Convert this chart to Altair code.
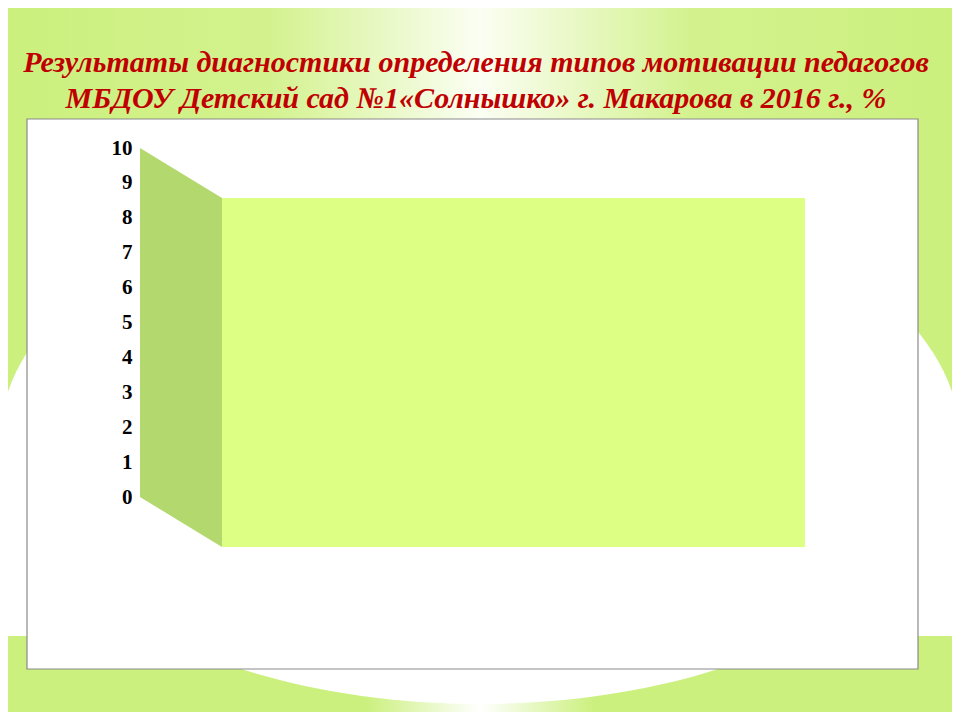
import altair as alt
import pandas as pd

# ---- data (the chart in the reference holds no series; only the axis scale) ----
TITLE_LINES = [
    "Результаты диагностики определения типов мотивации педагогов",
    "МБДОУ Детский сад №1«Солнышко» г. Макарова в 2016 г., %",
]
Y_TICKS = [0, 1, 2, 3, 4, 5, 6, 7, 8, 9, 10]
Y_MIN, Y_MAX = 0, 10

# ---- layout / style (view px = page px - 8) ----
W, H = 944, 704
GREEN = "#CBF07D"
Y_RANGE = [489, 140]             # pixel range of 0..10 on the front edge
PX_PER_UNIT = (Y_RANGE[0] - Y_RANGE[1]) / (Y_MAX - Y_MIN)
DROP_PX = 50                     # 3D depth drop
DROP_U = DROP_PX / PX_PER_UNIT

one = pd.DataFrame({"k": [0]})

def hgrad(stops):
    return {
        "gradient": "linear", "x1": 0, "x2": 1, "y1": 0, "y2": 0,
        "stops": [{"offset": o, "color": c} for o, c in stops],
    }

bg_top = alt.Chart(one).mark_rect(
    color=hgrad([(0, GREEN), (0.28, "#D3F28E"), (0.5, "#FBFEF3"), (0.72, "#D3F28E"), (1, GREEN)])
).encode(x=alt.value(-8), x2=alt.value(W + 8), y=alt.value(-8), y2=alt.value(388))

bg_bot = alt.Chart(one).mark_rect(
    color=hgrad([(0, GREEN), (0.38, GREEN), (0.5, "#FFFFFF"), (0.62, GREEN), (1, GREEN)])
).encode(x=alt.value(-8), x2=alt.value(W + 8), y=alt.value(627), y2=alt.value(H + 8))

bg_mid = alt.Chart(one).mark_rect(color="white").encode(
    x=alt.value(-8), x2=alt.value(W + 8), y=alt.value(387), y2=alt.value(628)
)

ellipse = alt.Chart(one).mark_point(
    shape="M -1 0 A 1 0.55 0 1 0 1 0 A 1 0.55 0 1 0 -1 0 Z",
    filled=True, fill="white", opacity=1, strokeWidth=0, size=960 * 960,
).encode(x=alt.value(472), y=alt.value(432))

box = alt.Chart(one).mark_rect(fill="white", stroke="#8A8A8A", strokeWidth=1.2).encode(
    x=alt.value(19), x2=alt.value(910), y=alt.value(111), y2=alt.value(661)
)

yaxis = alt.Axis(
    values=Y_TICKS, labelFont="Liberation Serif", labelFontWeight="bold",
    labelFontSize=21, labelColor="black", domain=False, ticks=False, grid=False,
    labelPadding=8, offset=-132, title=None, zindex=2,
)
yscale = alt.Scale(domain=[Y_MIN, Y_MAX], range=Y_RANGE, nice=False, zero=False)

back_df = pd.DataFrame({"lo": [Y_MIN], "hi": [Y_MAX]})
back_wall = alt.Chart(back_df).mark_rect(
    color="#DDFF84", yOffset=DROP_PX, y2Offset=DROP_PX
).encode(
    x=alt.value(214), x2=alt.value(797),
    y=alt.Y("lo:Q", scale=yscale, axis=yaxis), y2="hi:Q",
)

side_df = pd.DataFrame({
    "d": [0, 1],
    "top": [Y_MAX, Y_MAX - DROP_U],
    "bot": [Y_MIN, Y_MIN - DROP_U],
})
side_wall = alt.Chart(side_df).mark_area(color="#B3D86E", opacity=1).encode(
    x=alt.X("d:Q", scale=alt.Scale(domain=[0, 1], range=[132, 214]), axis=None),
    y=alt.Y("top:Q", scale=yscale, axis=yaxis), y2="bot:Q",
)

title_style = dict(
    font="Liberation Serif", fontStyle="italic", fontWeight="bold", fontSize=30,
    color="#C00000", align="center", baseline="alphabetic",
)
title1 = alt.Chart(pd.DataFrame({"t": [TITLE_LINES[0]]})).mark_text(**title_style).encode(
    text="t:N", x=alt.value(468), y=alt.value(64)
)
title2 = alt.Chart(pd.DataFrame({"t": [TITLE_LINES[1]]})).mark_text(**title_style).encode(
    text="t:N", x=alt.value(468), y=alt.value(100)
)

chart = alt.layer(
    bg_top, bg_bot, bg_mid, ellipse, box, back_wall, side_wall, title1, title2
).properties(
    width=W, height=H, autosize=alt.AutoSizeParams(type="none"), padding=0,
    background="white",
).configure_view(stroke=None)

chart.save("out.html", embed_options={"renderer": "svg", "actions": False})
